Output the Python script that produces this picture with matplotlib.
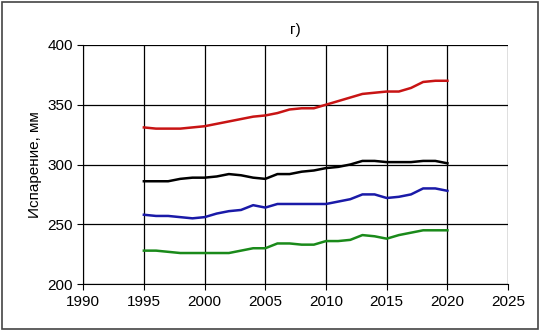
import matplotlib.pyplot as plt

years = list(range(1995, 2021))

red = [331, 330, 330, 330, 331, 332, 334, 336, 338, 340, 341, 343, 346,
       347, 347, 350, 353, 356, 359, 360, 361, 361, 364, 369, 370, 370]
black = [286, 286, 286, 288, 289, 289, 290, 292, 291, 289, 288, 292, 292,
         294, 295, 297, 298, 300, 303, 303, 302, 302, 302, 303, 303, 301]
blue = [258, 257, 257, 256, 255, 256, 259, 261, 262, 266, 264, 267, 267,
        267, 267, 267, 269, 271, 275, 275, 272, 273, 275, 280, 280, 278]
green = [228, 228, 227, 226, 226, 226, 226, 226, 228, 230, 230, 234, 234,
         233, 233, 236, 236, 237, 241, 240, 238, 241, 243, 245, 245, 245]

plt.rcParams['font.family'] = ['Liberation Sans', 'DejaVu Sans']

fig = plt.figure(figsize=(5.4, 3.3), dpi=100)
ax = fig.add_axes([0.154, 0.139, 0.787, 0.725])

ax.plot(years, red, color='#c81414', lw=1.8)
ax.plot(years, black, color='black', lw=1.8)
ax.plot(years, blue, color='#1a1aa8', lw=1.8)
ax.plot(years, green, color='#1a8a1a', lw=1.8)

ax.set_xlim(1990, 2025)
ax.set_ylim(200, 400)
ax.set_xticks(range(1990, 2026, 5))
ax.set_yticks(range(200, 401, 50))
ax.grid(True, color='black', lw=0.9)
ax.set_axisbelow(True)
for s in ['top', 'right']:
    ax.spines[s].set_visible(False)
ax.tick_params(labelsize=11, length=4)
ax.set_ylabel('Испарение, мм', fontsize=11)
ax.set_title('г)', fontsize=11, pad=8)

fig.patches.append(plt.Rectangle((0.003, 0.004), 0.993, 0.99, transform=fig.transFigure,
                                 fill=False, edgecolor='#444444', lw=1.2))

plt.savefig('out.png', dpi=100)
